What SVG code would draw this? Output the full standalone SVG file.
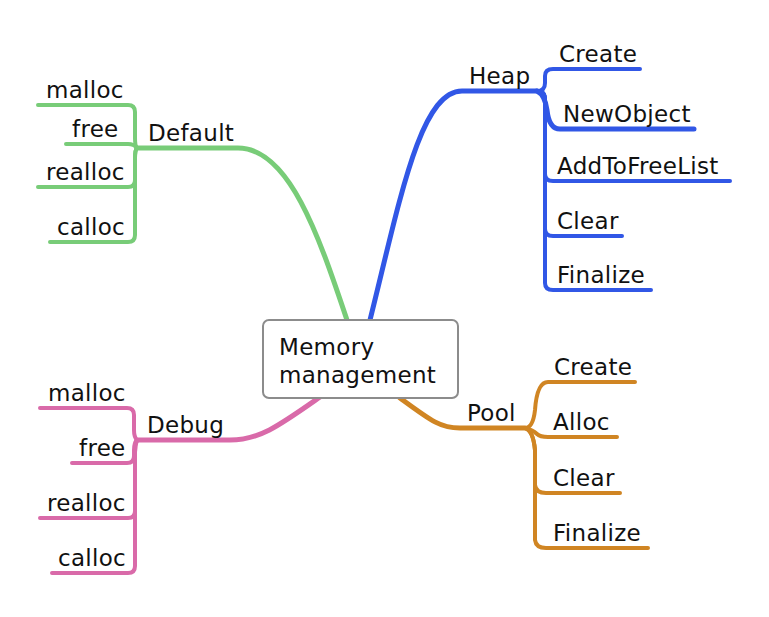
<svg xmlns="http://www.w3.org/2000/svg" width="769" height="617" viewBox="0 0 769 617">
<style>
text{font-family:"DejaVu Sans","Liberation Sans",sans-serif;font-size:23px;letter-spacing:0.3px;fill:#111}
.b{fill:none;stroke-linecap:round;stroke-linejoin:round}
.m{stroke-width:5}
.l{stroke-width:4}
.g{stroke:#78cc78}
.h{stroke:#3157e6}
.p{stroke:#d96aa9}
.o{stroke:#d08523}
</style>
<rect width="769" height="617" fill="#fff"/>
<g id="connectors">
<path class="b m g" d="M347 320 C320 240 290 148 238 148 L137 148"/>
<path class="b l g" d="M137 148 Q135 146 135 138 L135 112 Q135 105 128 105 L38 105"/>
<path class="b l g" d="M137 148 Q134 144 128 144 L66 144"/>
<path class="b l g" d="M137 148 Q135 150 135 158 L135 180 Q135 187 128 187 L38 187"/>
<path class="b l g" d="M137 148 Q135 150 135 158 L135 235 Q135 242 128 242 L50 242"/>
<path class="b m h" d="M370 320 C400 200 420 91 462 91 L537 91"/>
<path class="b l h" d="M537 91 Q545 91 545 83 L545 76 Q545 69 553 69 L640 69"/>
<path class="b m h" d="M537 91 Q545 95 547 110 Q549 129 560 129 L694 129"/>
<path class="b l h" d="M537 91 Q545 91 545 100 L545 174 Q545 181 553 181 L730 181"/>
<path class="b l h" d="M537 91 Q545 91 545 100 L545 229 Q545 236 553 236 L622 236"/>
<path class="b l h" d="M537 91 Q545 91 545 100 L545 283 Q545 290 553 290 L651 290"/>
<path class="b m p" d="M320 397 C280 425 260 440 230 440 L137 440"/>
<path class="b l p" d="M137 440 Q134 437 134 430 L134 415 Q134 408 127 408 L40 408"/>
<path class="b l p" d="M137 440 Q134 443 134 450 L134 456 Q134 463 127 463 L72 463"/>
<path class="b l p" d="M137 440 Q135 445 135 452 L135 511 Q135 518 128 518 L40 518"/>
<path class="b l p" d="M137 440 Q135 445 135 452 L135 566 Q135 573 128 573 L52 573"/>
<path class="b m o" d="M400 398 C430 420 440 428 460 428 L525 428"/>
<path class="b l o" d="M525 428 Q533 428 535 410 Q537 382 548 382 L635 382"/>
<path class="b l o" d="M525 428 Q533 430 537 434 Q540 437 548 437 L617 437"/>
<path class="b l o" d="M525 428 Q533 430 535 450 L535 485 Q536 493 546 493 L620 493"/>
<path class="b l o" d="M525 428 Q533 430 535 450 L535 540 Q536 548 546 548 L648 548"/>
</g>
<g id="center">
<rect x="263" y="320" width="195" height="78" rx="6" fill="#fff" stroke="#8c8c8c" stroke-width="2"/>
<text x="279" y="355">Memory</text>
<text x="279" y="383">management</text>
</g>
<g id="default"><text x="148" y="141">Default</text></g>
<g id="d-malloc"><text x="46" y="98">malloc</text></g>
<g id="d-free"><text x="72" y="137">free</text></g>
<g id="d-realloc"><text x="46" y="180">realloc</text></g>
<g id="d-calloc"><text x="57" y="235">calloc</text></g>
<g id="heap"><text x="469" y="84">Heap</text></g>
<g id="h-create"><text x="559" y="62">Create</text></g>
<g id="h-newobject"><text x="563" y="122">NewObject</text></g>
<g id="h-addtofreelist"><text x="557" y="174">AddToFreeList</text></g>
<g id="h-clear"><text x="557" y="229">Clear</text></g>
<g id="h-finalize"><text x="557" y="283">Finalize</text></g>
<g id="debug"><text x="147" y="433">Debug</text></g>
<g id="g-malloc"><text x="48" y="401">malloc</text></g>
<g id="g-free"><text x="79" y="456">free</text></g>
<g id="g-realloc"><text x="47" y="511">realloc</text></g>
<g id="g-calloc"><text x="58" y="566">calloc</text></g>
<g id="pool"><text x="467" y="421">Pool</text></g>
<g id="p-create"><text x="554" y="375">Create</text></g>
<g id="p-alloc"><text x="553" y="430">Alloc</text></g>
<g id="p-clear"><text x="553" y="486">Clear</text></g>
<g id="p-finalize"><text x="553" y="541">Finalize</text></g>
</svg>
